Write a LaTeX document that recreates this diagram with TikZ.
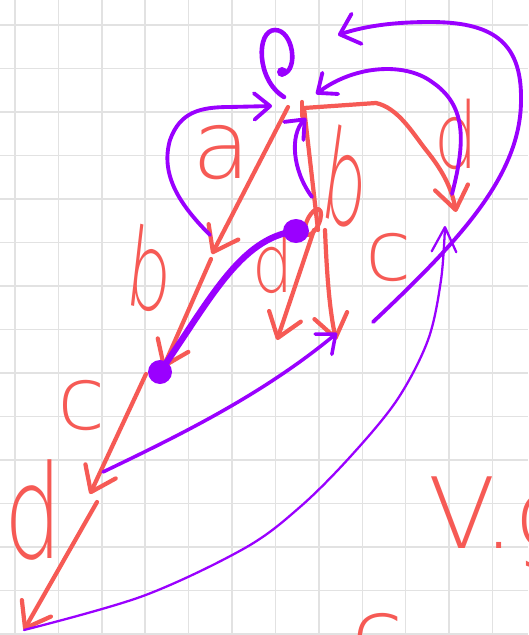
\documentclass[tikz,border=0pt]{standalone}
\usepackage{fontspec}
\newfontfamily\handfont{DejaVuSans-ExtraLight.ttf}
\usetikzlibrary{arrows.meta}
\definecolor{penred}{HTML}{F65A55}
\definecolor{penpurple}{HTML}{9A00FF}
\definecolor{gridgray}{HTML}{E2E2E2}

\begin{document}
\begin{tikzpicture}[x=0.02cm,y=-0.02cm,
  gridline/.style={draw=gridgray,line width=0.8pt},
  redpen/.style={draw=penred,line width=2.4pt,line cap=round,line join=round},
  redarr/.style={redpen,-{Straight Barb[length=13pt,width=19pt,round]}},
  purpen/.style={draw=penpurple,line width=2.2pt,line cap=round,line join=round},
  purarr/.style={purpen,-{Straight Barb[length=9pt,width=15pt,round]}},
  lbl/.style={text=penred,inner sep=0pt,font=\handfont\fontsize{#1}{#1}\selectfont},
  lbl/.default=48]
\useasboundingbox (0,0) rectangle (528,635);
\clip (0,0) rectangle (528,635);
\fill[white] (0,0) rectangle (528,635);
% squared paper
\foreach \gx in {15,58.4,...,520}
  \draw[gridline] (\gx,0) -- (\gx,635);
\foreach \gy in {25,68.5,...,640}
  \draw[gridline] (0,\gy) -- (528,\gy);

% points of the graph
\coordinate (topl) at (288,107);
\coordinate (topr) at (304,108);
\coordinate (va) at (212,254);
\coordinate (vas) at (211,259);
\coordinate (vb) at (163,368);
\coordinate (vbs) at (146,374);
\coordinate (vc) at (90,494);
\coordinate (vcs) at (97,502);
\coordinate (vd) at (24,630);
\coordinate (vm) at (318,230);
\coordinate (vml) at (314,230);
\coordinate (vmr) at (325,230);
\coordinate (ve) at (277,340);
\coordinate (vf) at (336,340);
\coordinate (vr) at (456,212);
\coordinate (vbl) at (296,231);
\coordinate (vdot) at (160,372);

% labels
\node[lbl=54] (la) at (222,153) {a};
\node[lbl=62,xscale=0.65,rotate=-10] (lb) at (150,270) {b};
\node[lbl=72,xscale=0.55,rotate=-14] (lb2) at (346,178) {b};
\node[lbl=46,xscale=0.8] (ld) at (273,262) {d};
\node[lbl=48] (lc) at (389,257) {c};
\node[lbl=52,xscale=0.75] (ld2) at (456,134) {d};
\node[lbl=50] (lc2) at (82,406) {c};
\node[lbl=74,xscale=0.7] (ld3) at (33,510) {d};
\node[lbl=56,anchor=base west] (lvg) at (428,548) {V.g};
\node[lbl=54,anchor=north] (lc3) at (378,613) {c};

% red arrows
\draw[redarr] (topl) -- (va);
\draw[redarr] (vas) -- (vb);
\draw[redarr] (vbs) -- (vc);
\draw[redarr] (vcs) -- (vd);
\draw[redarr] (topr) -- (376,103) .. controls (398,108) and (412,132) .. (426,150)
  .. controls (444,172) and (452,190) .. (vr);
\draw[redpen] (topr) -- (vm);
\draw[redpen] (302,102) -- (302,116);
\draw[redarr] (vml) -- (ve);
\draw[redarr] (vmr) .. controls (327,280) and (330,312) .. (vf);
\draw[redpen,rotate around={-25:(313,222)}] (313,222) ellipse (6 and 14);

% purple arrows
\draw[purarr] (210,235) .. controls (180,205) and (160,175) .. (170,140)
  .. controls (180,112) and (200,107) .. (230,107) -- (272,106);
\draw[purarr] (312,197) .. controls (292,170) and (290,135) .. (306,118);
\draw[purarr] (452,194) .. controls (466,140) and (466,105) .. (432,82)
  .. controls (405,62) and (355,65) .. (316,94);
\draw[purpen,-{Straight Barb[length=10pt,width=18pt,round]}] (373,322)
  .. controls (460,240) and (521,175) .. (521,100)
  .. controls (522,40) and (490,22) .. (430,22)
  .. controls (390,22) and (362,27) .. (338,35);
\draw[purpen,line width=2pt,-{Straight Barb[length=9pt,width=15pt,round]}] (103,472)
  .. controls (180,435) and (262,395) .. (337,333);
\draw[purpen,line width=1.3pt,-{Straight Barb[length=14pt,width=14pt,round]}]
  plot[smooth,tension=0.55] coordinates {(vd) (143,596) (245,548)
  (300,507) (350,457) (397,400) (428,340) (441,280) (445,226)};
\draw[purpen,line width=3.6pt] (vdot) .. controls (210,300) and (240,238) .. (vbl);
\fill[penpurple] (vdot) circle (12);
\fill[penpurple] (vbl) ellipse (13 and 12);
% loop at the top
\draw[purpen,line width=2.6pt] (284,97) .. controls (256,80) and (256,30) .. (275,30)
  .. controls (293,30) and (299,70) .. (283,74);
\fill[penpurple] (282,72) circle (5);
\end{tikzpicture}
\end{document}
